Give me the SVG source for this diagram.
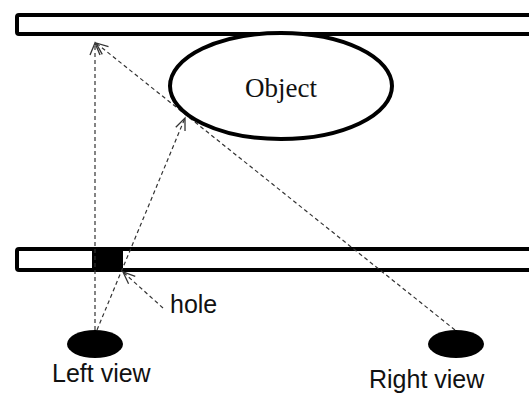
<svg xmlns="http://www.w3.org/2000/svg" width="529" height="410" viewBox="0 0 529 410">
<style>
.bar{fill:#fff;stroke:#000;stroke-width:4}
.eye{fill:#000}
.ray{fill:none;stroke:#333;stroke-width:1.2;stroke-dasharray:4 3}
.lbl{font-family:"Liberation Sans",Arial,sans-serif;font-size:25px;fill:#111}
.obj{font-family:"Liberation Serif","Times New Roman",serif;font-size:27px;fill:#111}
</style>
<defs>
<marker id="ah" markerUnits="userSpaceOnUse" markerWidth="16" markerHeight="12" refX="13" refY="6" orient="auto">
<path d="M1,1 L13,6 L1,11" fill="none" stroke="#333" stroke-width="1.3"/>
</marker>
</defs>
<g id="top-wall"><rect class="bar" x="17" y="15" width="530" height="19" rx="2"/></g>
<g id="bottom-wall"><rect class="bar" x="17" y="249" width="530" height="21" rx="2"/></g>
<g id="hole-block"><rect x="92" y="249" width="31" height="21" fill="#000"/></g>
<g id="connectors">
<line class="ray" x1="455" y1="330" x2="96" y2="43" marker-end="url(#ah)"/>
<line class="ray" x1="95" y1="330" x2="95" y2="43" marker-end="url(#ah)"/>
<line class="ray" x1="97" y1="330" x2="185" y2="118" marker-end="url(#ah)"/>
<line class="ray" x1="163" y1="308" x2="123" y2="272" marker-end="url(#ah)"/>
</g>
<g id="object"><ellipse cx="281" cy="86" rx="111" ry="53" fill="#fff" stroke="#000" stroke-width="4"/><text class="obj" x="281" y="97" text-anchor="middle">Object</text></g>
<g id="hole-label"><text class="lbl" x="170" y="313">hole</text></g>
<g id="left-eye"><ellipse class="eye" cx="95" cy="344" rx="28" ry="14"/></g>
<g id="right-eye"><ellipse class="eye" cx="456" cy="344" rx="28" ry="14"/></g>
<g id="left-label"><text class="lbl" x="52" y="382">Left view</text></g>
<g id="right-label"><text class="lbl" x="369" y="388">Right view</text></g>
</svg>
